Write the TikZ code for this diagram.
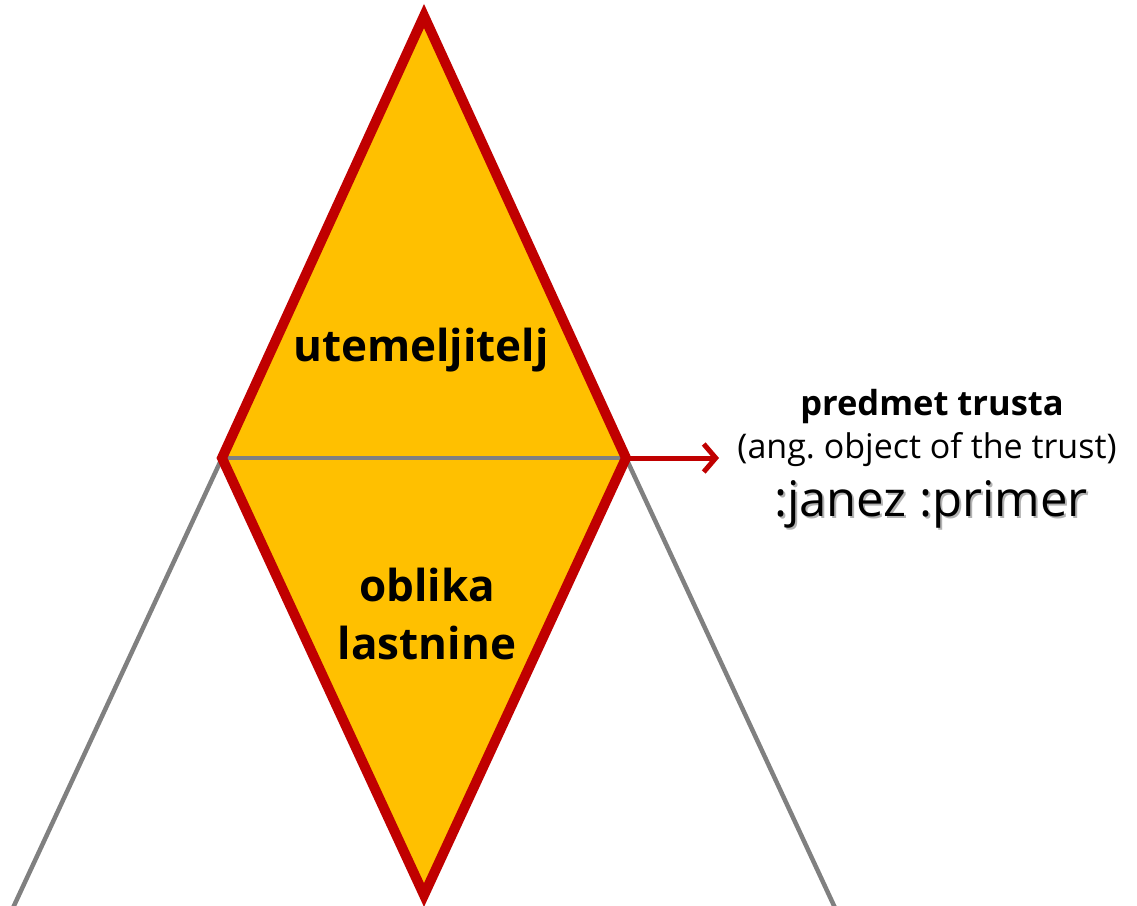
\documentclass[tikz,border=0pt]{standalone}
\usepackage{fontspec}
\setmainfont{Open Sans}
\usetikzlibrary{arrows.meta}
\frenchspacing
\definecolor{dred}{RGB}{192,0,0}
\definecolor{gold}{RGB}{255,192,0}
\definecolor{lgrey}{RGB}{128,128,128}
\tikzset{
  redline/.style={draw=dred,line width=10pt,line join=miter},
  greyline/.style={draw=lgrey,line width=4.5pt},
  lbl/.style={inner sep=0pt,align=center,font=\bfseries\fontsize{44}{58}\selectfont},
  rtxt/.style={inner sep=0pt,align=center}
}
\begin{document}
\begin{tikzpicture}[x=1pt,y=-1pt]
\useasboundingbox (0,0) rectangle (1137,905);
\coordinate (T) at (424,16);
\coordinate (L) at (222,458);
\coordinate (R) at (626,458);
\coordinate (B) at (424,895);
\coordinate (GL) at (12,910);
\coordinate (GR) at (836,910);
\fill[gold] (T) -- (R) -- (B) -- (L) -- cycle;
\draw[greyline] (L) -- (R);
\draw[greyline] (L) -- (GL);
\draw[greyline] (R) -- (GR);
\draw[redline] (T) -- (R) -- (B) -- (L) -- cycle;
\coordinate (A) at (719,458);
\draw[draw=dred,line width=5pt,-{Straight Barb[length=12pt,width=28pt,line width=5pt]}] (R) -- (A);
\node[lbl] (u) at (421,350) {utemeljitelj};
\node[lbl] (o) at (427,614) {oblika\\lastnine};
\node[rtxt,font=\bfseries\fontsize{34.5}{40}\selectfont] (p) at (932,407) {predmet trusta};
\node[rtxt,font=\fontsize{34}{40}\selectfont] (a) at (927,450) {(ang. object of the trust)};
\node[rtxt,font=\fontsize{49}{56}\selectfont,text=black!30] at (933,506) {:janez :primer};
\node[rtxt,font=\fontsize{49}{56}\selectfont] (j) at (931,504) {:janez :primer};
\end{tikzpicture}
\end{document}
